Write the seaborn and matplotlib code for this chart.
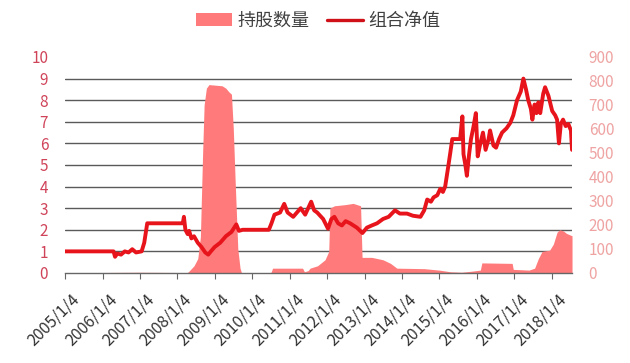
import numpy as np
import pandas as pd
import matplotlib
matplotlib.use("Agg")
import matplotlib.pyplot as plt
import matplotlib.transforms as mtransforms
from matplotlib.patches import Patch
from matplotlib.lines import Line2D
from matplotlib.ticker import MultipleLocator, FixedLocator
import seaborn as sns

# ---- data (decimal years) ----
nav_dates = [2005.00, 2006.30, 2006.34, 2006.40, 2006.50, 2006.60, 2006.70, 2006.80, 2006.90, 2007.05,
             2007.12, 2007.20, 2008.10, 2008.15, 2008.18, 2008.22, 2008.28, 2008.32, 2008.38, 2008.45,
             2008.55, 2008.65, 2008.75, 2008.83, 2008.90, 2009.00, 2009.15, 2009.30, 2009.45, 2009.58,
             2009.65, 2009.75, 2010.45, 2010.52, 2010.60, 2010.75, 2010.86, 2010.95, 2011.10, 2011.30,
             2011.42, 2011.58, 2011.66, 2011.74, 2011.90, 2012.03, 2012.12, 2012.20, 2012.30, 2012.40,
             2012.50, 2012.62, 2012.80, 2012.95, 2013.07, 2013.20, 2013.34, 2013.50, 2013.65, 2013.82,
             2013.95, 2014.14, 2014.30, 2014.50, 2014.60, 2014.68, 2014.78, 2014.85, 2014.95, 2015.03,
             2015.10, 2015.16, 2015.24, 2015.30, 2015.35, 2015.56, 2015.62, 2015.65, 2015.70, 2015.74,
             2015.80, 2015.85, 2015.92, 2015.98, 2016.03, 2016.10, 2016.17, 2016.24, 2016.32, 2016.36,
             2016.45, 2016.52, 2016.60, 2016.68, 2016.80, 2016.90, 2016.98, 2017.08, 2017.18, 2017.25,
             2017.32, 2017.38, 2017.45, 2017.49, 2017.55, 2017.60, 2017.65, 2017.70, 2017.78, 2017.83,
             2017.92, 2018.02, 2018.10, 2018.15, 2018.20, 2018.25, 2018.31, 2018.38, 2018.45, 2018.52,
             2018.55]
nav_values = [1.00, 1.00, 0.75, 0.90, 0.85, 1.00, 0.95, 1.10, 0.95, 1.00,
              1.40, 2.30, 2.30, 2.30, 2.60, 2.00, 1.80, 1.95, 1.60, 1.70,
              1.40, 1.20, 0.95, 0.85, 1.00, 1.20, 1.40, 1.70, 1.90, 2.25,
              1.95, 2.00, 2.00, 2.30, 2.70, 2.80, 3.20, 2.80, 2.60, 3.00,
              2.70, 3.30, 2.90, 2.80, 2.50, 2.05, 2.50, 2.60, 2.30, 2.20,
              2.40, 2.30, 2.10, 1.85, 2.10, 2.20, 2.30, 2.50, 2.60, 2.90,
              2.75, 2.75, 2.65, 2.60, 2.90, 3.40, 3.30, 3.50, 3.60, 3.90,
              3.75, 4.00, 4.90, 5.60, 6.20, 6.20, 7.25, 5.50, 5.00, 4.50,
              5.50, 6.20, 6.80, 7.40, 5.40, 6.00, 6.50, 5.70, 6.20, 6.60,
              5.90, 5.80, 6.20, 6.50, 6.70, 6.95, 7.30, 8.00, 8.40, 9.00,
              8.50, 8.00, 7.60, 7.10, 7.80, 7.40, 7.90, 7.40, 8.30, 8.60,
              8.20, 7.50, 7.30, 7.10, 6.00, 6.90, 7.10, 6.80, 6.90, 6.60,
              5.70]

hold_dates = [2005.00, 2006.00, 2007.00, 2008.00, 2008.25, 2008.30, 2008.45, 2008.55, 2008.62, 2008.68,
              2008.72, 2008.78, 2008.85, 2009.20, 2009.30, 2009.38, 2009.45, 2009.50, 2009.55, 2009.62,
              2009.68, 2009.72, 2010.50, 2010.55, 2011.35, 2011.40, 2011.50, 2011.55, 2011.75, 2011.95,
              2012.05, 2012.08, 2012.20, 2012.50, 2012.70, 2012.90, 2012.94, 2013.20, 2013.50, 2013.70,
              2013.87, 2014.60, 2015.00, 2015.30, 2015.60, 2015.90, 2016.10, 2016.14, 2016.95, 2016.98,
              2017.40, 2017.55, 2017.65, 2017.75, 2017.95, 2018.05, 2018.15, 2018.22, 2018.32, 2018.40,
              2018.55]
hold_values = [0, 2, 3, 2, 0, 5, 30, 60, 150, 500,
               700, 770, 785, 780, 770, 755, 745, 600, 380, 100,
               20, 0, 0, 20, 20, 5, 10, 20, 30, 55,
               90, 270, 280, 285, 290, 280, 65, 65, 55, 40,
               20, 18, 12, 5, 3, 8, 12, 42, 40, 15,
               12, 20, 60, 90, 95, 120, 170, 180, 175, 165,
               155]

tick_years = list(range(2005, 2019))
tick_labels = [f"{y}/1/4" for y in tick_years]
left_ticks = list(range(0, 11))
right_ticks = list(range(0, 1000, 100))

legend_labels = ["持股数量", "组合净值"]

# ---- style ----
sns.set_theme(style="white")
plt.rcParams['font.family'] = ['Noto Sans CJK SC', 'DejaVu Sans']

BAR = "#FF7B7B"
LINE = "#E8141C"
LEFT_TXT = "#D0445A"
RIGHT_TXT = "#EFA3A3"
GRID = "#5A5A5A"

fig = plt.figure(figsize=(6.3, 3.63), dpi=100)
ax = fig.add_axes([0.103, 0.248, 0.805, 0.595])
ax2 = ax.twinx()

nav = pd.DataFrame({"date": nav_dates, "nav": nav_values})
hold = pd.DataFrame({"date": hold_dates, "hold": hold_values})

# bars (area) on right axis, behind
ax2.fill_between(hold["date"], 0, hold["hold"], color=BAR, linewidth=0, zorder=3)
ax2.set_ylim(0, 900)
ax2.yaxis.set_major_locator(FixedLocator(right_ticks))
ax2.yaxis.set_minor_locator(MultipleLocator(90))
ax2.grid(False)
ax2.grid(True, which="minor", axis="y", color=GRID, linewidth=1.0)
ax2.set_axisbelow(True)
ax2.tick_params(axis="y", which="both", length=0, pad=12, labelsize=11, labelcolor=RIGHT_TXT)

# line on left axis, front
sns.lineplot(data=nav, x="date", y="nav", ax=ax, color=LINE, linewidth=2.8, zorder=5)
ax.set_zorder(ax2.get_zorder() + 1)
ax.patch.set_visible(False)
ax.set_ylim(0, 10)
ax.set_yticks(left_ticks)
ax.tick_params(axis="y", length=0, pad=12, labelsize=11, labelcolor=LEFT_TXT)
ax.grid(False)
ax.set_xlabel("")
ax.set_ylabel("")
ax2.set_ylabel("")

ax.set_xlim(2005.0, 2018.55)
ax.set_xticks([y + 0.008 for y in tick_years])
ax.set_xticklabels(tick_labels, rotation=45, ha="right", va="top", rotation_mode="anchor")
ax.tick_params(axis="x", direction="out", length=4, width=0.8, color="#666666",
               bottom=True, pad=9, labelsize=11.5, labelcolor="#333333")
offset = mtransforms.ScaledTranslation(4 / 72, 0, fig.dpi_scale_trans)
for lab in ax.get_xticklabels():
    lab.set_transform(lab.get_transform() + offset)

for a in (ax, ax2):
    for s in ("top", "left", "right", "bottom"):
        a.spines[s].set_visible(False)
ax.spines["bottom"].set_visible(True)
ax.spines["bottom"].set_color("#666666")
ax.spines["bottom"].set_linewidth(1.0)

handles = [Patch(facecolor=BAR, edgecolor="none"), Line2D([0], [0], color="#D01018", linewidth=2.4)]
fig.legend(handles, legend_labels, loc="center", bbox_to_anchor=(0.505, 0.942), ncol=2, frameon=False,
           fontsize=13, handlelength=2.0, handletextpad=0.3, columnspacing=1.0,
           labelcolor="#404040")

fig.savefig("out.png", dpi=100)
